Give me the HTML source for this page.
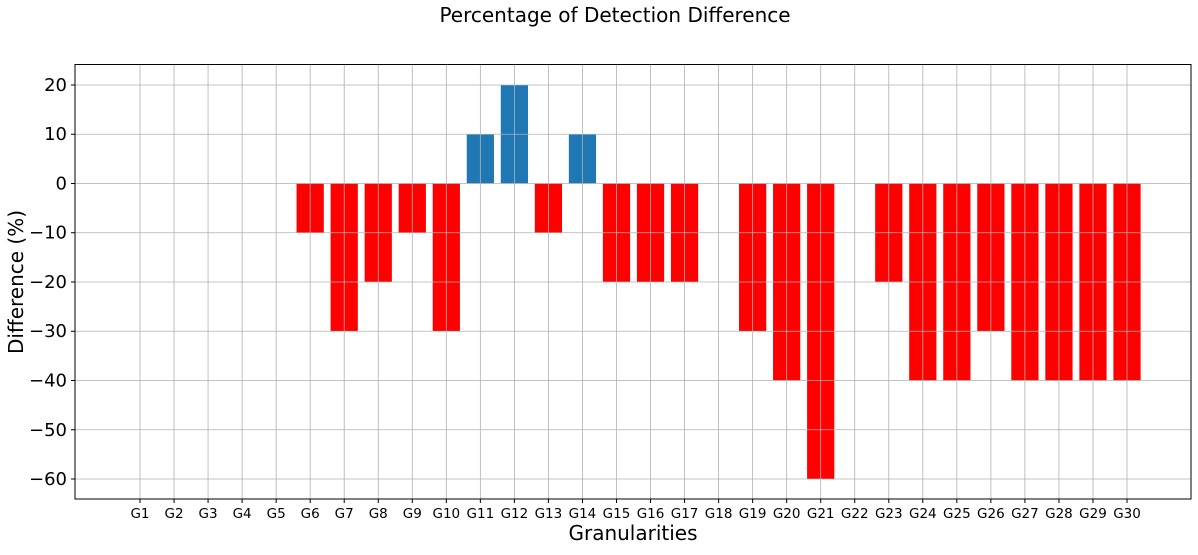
<!DOCTYPE html>
<html><head><meta charset="utf-8"><style>
body{margin:0;background:#fff;width:1198px;height:550px;overflow:hidden;font-family:"Liberation Sans","DejaVu Sans",sans-serif}
</style></head><body>
<svg id="chart" width="1198" height="550" xmlns="http://www.w3.org/2000/svg" font-family="DejaVu Sans, Liberation Sans, sans-serif">
<text x="615" y="22" text-anchor="middle" font-size="20">Percentage of Detection Difference</text>
<g id="bars"></g><g id="grid"></g><g id="ticks"></g>
<rect x="75" y="64.5" width="1116" height="434.5" fill="none" stroke="#000" stroke-width="1"/>
<text x="633" y="540" text-anchor="middle" font-size="20">Granularities</text>
<text transform="translate(23,282) rotate(-90)" text-anchor="middle" font-size="20">Difference (%)</text>
</svg>
<script>
const categories=["G1","G2","G3","G4","G5","G6","G7","G8","G9","G10","G11","G12","G13","G14","G15","G16","G17","G18","G19","G20","G21","G22","G23","G24","G25","G26","G27","G28","G29","G30"];
const values=[0,0,0,0,0,-10,-30,-20,-10,-30,10,20,-10,10,-20,-20,-20,0,-30,-40,-60,0,-20,-40,-40,-30,-40,-40,-40,-40];
const yTicks=[20,10,0,-10,-20,-30,-40,-50,-60];
const NS="http://www.w3.org/2000/svg";
const L=75,R=1191,T=64.5,B=499;
const xmin=-1.91,xmax=30.88,ymin=-64.06,ymax=24.16;
const xs=i=>L+(i-xmin)/(xmax-xmin)*(R-L);
const ys=v=>B-(v-ymin)/(ymax-ymin)*(B-T);
const bw=0.8*(R-L)/(xmax-xmin);
function mk(tag,attrs,parent){const e=document.createElementNS(NS,tag);for(const k in attrs)e.setAttribute(k,attrs[k]);parent.appendChild(e);return e;}
const gb=document.getElementById('bars'),gg=document.getElementById('grid'),gt=document.getElementById('ticks');
categories.forEach((c,i)=>{
  const v=values[i];
  const y0=ys(Math.max(v,0)),y1=ys(Math.min(v,0));
  const r=mk('rect',{x:xs(i)-bw/2,y:y0,width:bw,height:Math.max(0,y1-y0),fill:v>0?'#1f77b4':'#ff0000'},gb);
  
  
  const gl=mk('line',{x1:xs(i),x2:xs(i),y1:T,y2:B,stroke:'#b0b0b0','stroke-width':0.8},gg);
  
  
  mk('line',{x1:xs(i),x2:xs(i),y1:B,y2:B+4,stroke:'#000'},gt);
  const t=mk('text',{x:xs(i),y:B+19,'text-anchor':'middle','font-size':13.5},gt);
  t.textContent=c;
  
  
});
yTicks.forEach(v=>{
  const gl=mk('line',{x1:L,x2:R,y1:ys(v),y2:ys(v),stroke:'#b0b0b0','stroke-width':0.8},gg);
  
  
  mk('line',{x1:L-4,x2:L,y1:ys(v),y2:ys(v),stroke:'#000'},gt);
  const t=mk('text',{x:L-8,y:ys(v)+6,'text-anchor':'end','font-size':18},gt);
  t.textContent=v<0?'\u2212'+(-v):String(v);
  
  
});
</script>
</body></html>
